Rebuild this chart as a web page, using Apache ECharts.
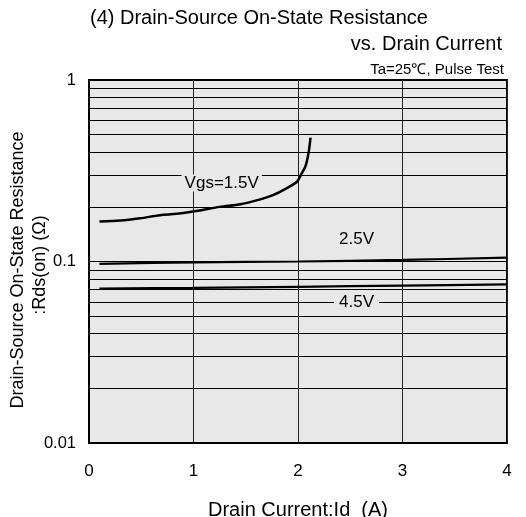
<!DOCTYPE html>
<html>
<head>
<meta charset="utf-8">
<script src="https://cdn.jsdelivr.net/npm/echarts@6/dist/echarts.min.js"></script>
<style>
  html, body { margin: 0; padding: 0; background: #fff; }
  #chart { width: 526px; height: 517px; }
</style>
</head>
<body>
<div id="chart"></div>
<script>
// Drain current (A) and Rds(on) (ohm)
var vgs15X = [0.1, 0.3, 0.49, 0.68, 0.84, 1.06, 1.25, 1.45, 1.64, 1.76, 1.89, 1.99, 2.03, 2.07, 2.1, 2.12];
var vgs15Y = [0.166, 0.168, 0.173, 0.180, 0.183, 0.191, 0.200, 0.207, 0.220, 0.232, 0.253, 0.275, 0.302, 0.333, 0.394, 0.481];
var vgs25X = [0.1, 1, 2, 3, 4];
var vgs25Y = [0.097, 0.099, 0.100, 0.102, 0.105];
var vgs45X = [0.1, 1, 2, 3, 4];
var vgs45Y = [0.071, 0.0715, 0.0725, 0.0737, 0.0748];
var minorLines = [0.02, 0.03, 0.04, 0.05, 0.06, 0.07, 0.08, 0.09, 0.2, 0.3, 0.4, 0.5, 0.6, 0.7, 0.8, 0.9];
var xTicks = [0, 1, 2, 3, 4];

function pairs(xs, ys) {
  return xs.map(function (x, i) { return [x, ys[i]]; });
}

var font = 'Liberation Sans, Arial, sans-serif';
var chart = echarts.init(document.getElementById('chart'));

chart.setOption({
  animation: false,
  textStyle: { fontFamily: font },
  title: [
    { text: '(4) Drain-Source On-State Resistance', left: 85, top: 3,
      textStyle: { fontSize: 20, fontWeight: 'normal', color: '#000', fontFamily: font } },
    { text: 'vs. Drain Current', right: 19, top: 29,
      textStyle: { fontSize: 20, fontWeight: 'normal', color: '#000', fontFamily: font } },
    { text: 'Ta=25\u2103, Pulse Test', right: 17, top: 57,
      textStyle: { fontSize: 15, fontWeight: 'normal', color: '#000', fontFamily: font } }
  ],
  // y axis title, two rotated lines
  graphic: [
    { type: 'text', x: 18, y: 270, rotation: Math.PI / 2,
      style: { text: 'Drain-Source On-State Resistance', fontSize: 18, fontFamily: font,
        fill: '#000', align: 'center', verticalAlign: 'middle' } },
    { type: 'text', x: 40, y: 265, rotation: Math.PI / 2,
      style: { text: ':Rds(on) (\u03a9)', fontSize: 18, fontFamily: font,
        fill: '#000', align: 'center', verticalAlign: 'middle' } }
  ],
  grid: {
    left: 89, right: 19, top: 80, bottom: 74,
    outerBoundsMode: 'none',
    show: true, backgroundColor: '#e8e8e8', borderColor: '#000', borderWidth: 2
  },
  xAxis: {
    type: 'value', min: 0, max: 4, interval: 1,
    name: 'Drain Current:Id  (A)', nameLocation: 'middle', nameGap: 57,
    nameTextStyle: { fontSize: 20, color: '#000' },
    axisLine: { show: true, lineStyle: { color: '#000', width: 2 } },
    axisTick: { show: false },
    axisLabel: { fontSize: 17, color: '#000', margin: 20,
      formatter: function (v) { return xTicks.indexOf(v) >= 0 ? String(v) : ''; } },
    splitLine: { show: true, lineStyle: { color: '#222', width: 1 } }
  },
  yAxis: {
    type: 'log', logBase: 10, min: 0.01, max: 1,
    axisLine: { show: true, lineStyle: { color: '#000', width: 2 } },
    axisTick: { show: false },
    axisLabel: { fontSize: 16.5, color: '#000', margin: 13,
      formatter: function (v) { return String(v); } },
    splitLine: { show: true, lineStyle: { color: '#000', width: 1 } }
  },
  series: [
    {
      type: 'line', data: pairs(vgs45X, vgs45Y), showSymbol: false, smooth: 0.3,
      lineStyle: { color: '#000', width: 2.2 }, z: 3,
      markLine: {
        silent: true, symbol: 'none', label: { show: false },
        lineStyle: { color: '#000', width: 1, type: 'solid' },
        data: minorLines.map(function (v) { return { yAxis: v }; }),
        z: 1
      },
      markPoint: {
        symbol: 'rect', symbolSize: 0,
        label: { show: true, formatter: '4.5V', fontSize: 17, color: '#000',
          backgroundColor: '#e8e8e8', padding: [0, 5] },
        data: [{ coord: [2.56, 0.0598] }]
      }
    },
    {
      type: 'line', data: pairs(vgs25X, vgs25Y), showSymbol: false, smooth: 0.3,
      lineStyle: { color: '#000', width: 2.2 }, z: 3,
      markPoint: {
        symbol: 'rect', symbolSize: 0,
        label: { show: true, formatter: '2.5V', fontSize: 17, color: '#000' },
        data: [{ coord: [2.56, 0.133] }]
      }
    },
    {
      type: 'line', data: pairs(vgs15X, vgs15Y), showSymbol: false, smooth: 0.3,
      lineStyle: { color: '#000', width: 2.5 }, z: 3,
      markPoint: {
        symbol: 'rect', symbolSize: 0,
        label: { show: true, formatter: 'Vgs=1.5V', fontSize: 17, color: '#000',
          backgroundColor: '#e8e8e8', padding: [0, 3] },
        data: [{ coord: [1.27, 0.271] }]
      }
    }
  ]
});
</script>
</body>
</html>
